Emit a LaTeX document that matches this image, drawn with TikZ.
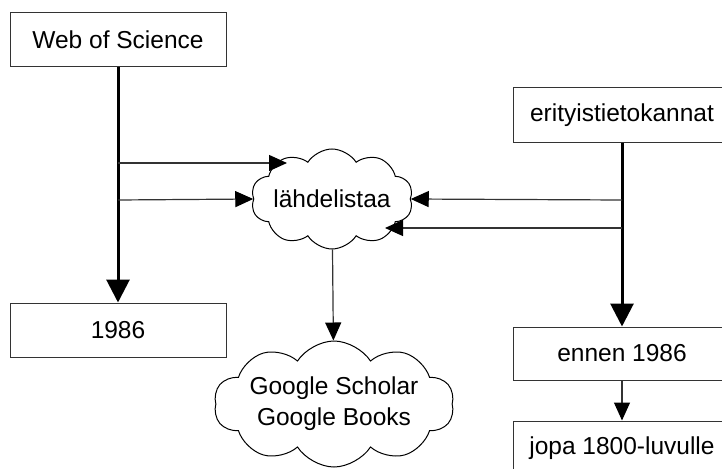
\documentclass[tikz,border=0pt]{standalone}
\usepackage{fontspec}
\setmainfont{Liberation Sans}
\usepackage{tikz}
\usetikzlibrary{positioning,arrows.meta,shapes.symbols,calc}
\definecolor{ink}{HTML}{000000}
\definecolor{edge}{HTML}{333333}
\tikzset{
  box/.style={rectangle,draw=edge,line width=1pt,fill=white,
    minimum width=216pt,minimum height=54pt,inner sep=0pt},
  puff/.style={cloud,cloud puffs=10,cloud puff arc=115,cloud ignores aspect,
    draw=ink,line width=1pt,fill=white,align=center,inner sep=0pt},
  bold/.style={-{Triangle[length=23pt,width=23pt]},line width=3pt,draw=ink},
  thin/.style={-{Triangle[length=18pt,width=16pt,color=ink]},line width=1.2pt,draw=edge},
}

\begin{document}
\begin{tikzpicture}[x=1pt,y=-1pt,font=\fontsize{24.5}{31}\selectfont]
  \clip (0,0) rectangle (722,468);
  \fill[white] (0,0) rectangle (722,468);
  % left column
  \node[box] (wos) at (118,40) {Web of Science};
  \node[box] (y1986) at (118,330) {1986};
  % right column
  \node[box,minimum width=218pt] (erit) at (622,115) {erityistietokannat};
  \node[box,minimum width=218pt,minimum height=53pt] (ennen) at (622,353.5) {ennen 1986};
  \node[box,minimum width=218pt] (jopa) at (622,448) {jopa 1800-luvulle};
  % clouds
  \node[puff,minimum width=150pt,minimum height=100pt] (lahde) at (332,199) {lähdelistaa};
  \node[puff,minimum width=208pt,minimum height=126pt] (google) at (334,404) {Google Scholar\\Google Books};
  \coordinate (wl1) at (118,163);
  \coordinate (wl2) at (118,200);
  \coordinate (er1) at (622,200);
  \coordinate (er2) at (622,228);
  \coordinate (c1) at (287,163);
  \coordinate (c2) at (385,228);
  \draw[bold] (wos) -- (y1986);
  \draw[bold] (erit) -- (ennen);
  \draw[thin] (ennen) -- (jopa);
  \draw[thin] (lahde) -- (google);
  \draw[thin] (wl1) -- (c1);
  \draw[thin] (wl2) -- (lahde.west);
  \draw[thin] (er1) -- (lahde.east);
  \draw[thin] (er2) -- (c2);
\end{tikzpicture}
\end{document}
